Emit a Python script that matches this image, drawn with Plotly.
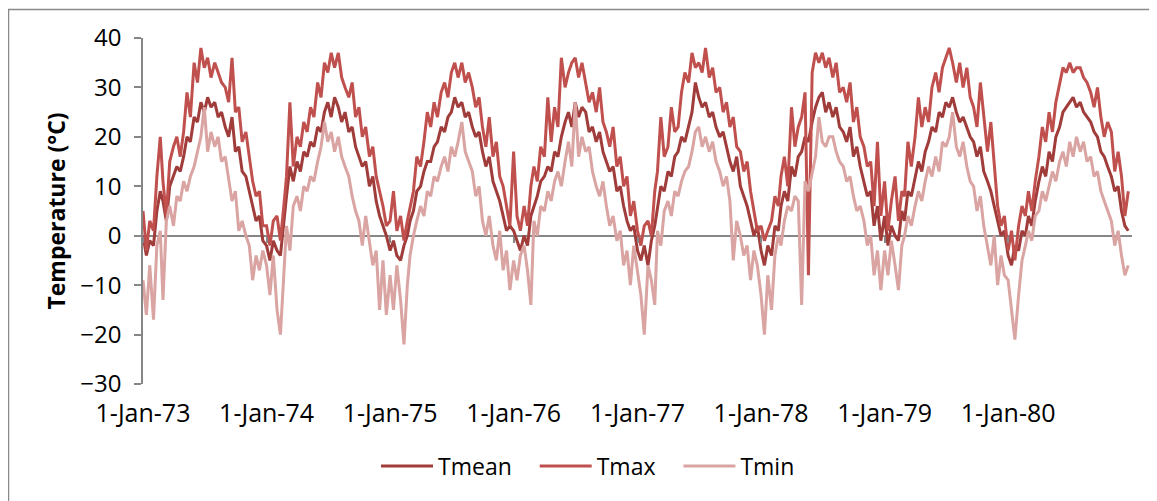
import pandas as pd
import plotly.graph_objects as go

# ---------------- data: values, one value per dekad (1st, 11th, 21st of each month)
years = list(range(1973, 1981))
dekad_days = [1, 11, 21]

tmax73 = [5, -3, 3, 1, 12, 20, 11, 4, 15, 18, 20, 16, 21, 29, 24, 35, 31, 38, 34, 36, 32, 35, 33, 31, 30, 27, 36, 25, 26, 19, 21, 16, 11, 8, 9, 2]
tmax74 = [2, -2, 3, 4, -1, 6, 12, 27, 14, 20, 18, 23, 21, 26, 24, 31, 28, 35, 33, 37, 34, 37, 32, 30, 28, 31, 24, 26, 20, 22, 16, 18, 12, 9, 6, 2]
tmax75 = [3, 9, 1, 4, -1, 3, 6, 9, 16, 14, 19, 25, 22, 27, 24, 29, 31, 28, 33, 35, 32, 35, 31, 33, 30, 26, 28, 22, 18, 24, 16, 19, 12, 10, 6, 2]
tmax76 = [17, 4, 1, 6, 2, 10, 14, 11, 18, 16, 28, 19, 26, 22, 36, 30, 33, 35, 36, 32, 35, 31, 27, 29, 25, 30, 23, 21, 18, 22, 14, 16, 10, 12, 4, 7]
tmax77 = [1, -2, 2, 3, 0, 9, 13, 24, 16, 18, 26, 21, 22, 29, 33, 31, 37, 34, 35, 33, 38, 32, 34, 29, 30, 25, 27, 22, 24, 18, 17, 13, 15, 9, 5, 1]
tmax78 = [2, -1, 1, 3, 8, 6, 12, 16, 10, 26, 18, 22, 24, 29, -8, 33, 37, 35, 37, 34, 36, 32, 35, 29, 30, 27, 31, 23, 26, 20, 18, 14, 15, 6, 19, 4]
tmax79 = [11, 1, 7, 12, 3, 9, 8, 19, 14, 20, 28, 22, 26, 23, 30, 33, 29, 34, 36, 38, 35, 31, 35, 30, 34, 28, 26, 22, 31, 24, 17, 23, 14, 6, 2, 4]
tmax80 = [-3, 1, -5, 2, 6, 4, 9, 5, 11, 16, 22, 19, 25, 21, 27, 31, 34, 33, 35, 33, 34, 34, 32, 31, 29, 26, 30, 24, 20, 23, 21, 13, 17, 12, 4, 9]

tmean73 = [0, -4, -1, -2, 5, 9, 7, 3, 10, 12, 14, 13, 16, 20, 19, 24, 23, 27, 25, 28, 26, 27, 24, 25, 22, 20, 24, 17, 18, 13, 12, 9, 6, 3, 4, -1]
tmean74 = [-2, -5, -1, -3, -4, 3, 8, 14, 11, 15, 13, 17, 16, 19, 18, 22, 21, 25, 27, 24, 28, 26, 23, 25, 21, 22, 18, 16, 14, 15, 10, 12, 7, 4, 2, 0]
tmean75 = [-3, -1, -4, -5, -2, 0, 3, 5, 9, 10, 13, 15, 15, 18, 19, 22, 21, 24, 25, 28, 26, 27, 24, 25, 22, 20, 21, 17, 14, 16, 11, 9, 7, 4, 1, 2]
tmean76 = [1, -1, -3, 0, -2, 4, 6, 8, 11, 12, 14, 13, 17, 16, 20, 23, 25, 22, 27, 24, 26, 25, 21, 22, 19, 21, 17, 15, 13, 14, 9, 10, 6, 3, 1, 2]
tmean77 = [-3, -5, -2, -6, -1, 2, 6, 10, 9, 13, 12, 16, 17, 20, 19, 22, 25, 31, 28, 26, 27, 24, 25, 22, 20, 21, 18, 15, 13, 16, 10, 8, 6, 3, 0, 2]
tmean78 = [-3, -6, -2, -4, 2, 1, 6, 9, 7, 14, 12, 16, 17, 20, 19, 23, 26, 28, 29, 25, 27, 24, 26, 22, 21, 19, 22, 16, 18, 14, 11, 8, 9, 2, 6, -1]
tmean79 = [4, -2, 2, 0, -1, 5, 3, 9, 8, 12, 15, 13, 17, 19, 22, 21, 25, 24, 27, 26, 28, 25, 23, 24, 22, 20, 19, 16, 18, 13, 11, 9, 6, 3, 0, 1]
tmean80 = [-4, -6, -2, -3, 1, 0, 4, 2, 7, 11, 14, 12, 17, 15, 20, 22, 25, 26, 27, 28, 26, 27, 25, 24, 23, 21, 20, 17, 16, 14, 12, 9, 10, 5, 2, 1]

tmin73 = [-9, -16, -6, -17, -2, 1, -13, 3, 6, 2, 8, 7, 11, 9, 12, 14, 17, 20, 26, 17, 21, 18, 20, 15, 16, 11, 7, 9, 1, 3, 0, -2, -9, -4, -7, -3]
tmin74 = [-6, -12, -4, -15, -20, -8, 2, -3, 6, 8, 5, 10, 9, 12, 11, 15, 18, 23, 19, 21, 17, 20, 16, 14, 12, 8, 5, 3, -2, 4, -1, -6, -3, -15, -5, -16]
tmin75 = [-8, -15, -6, -13, -22, -10, -4, 0, 3, 6, 4, 9, 8, 12, 11, 14, 16, 13, 18, 16, 19, 23, 17, 15, 13, 8, 10, 3, 0, 4, -2, -5, 1, -7, -3, -11]
tmin76 = [-5, -9, -4, -2, -7, -14, 3, 0, 6, 5, 9, 7, 11, 13, 10, 15, 19, 14, 27, 16, 20, 17, 18, 13, 10, 8, 11, 6, 2, 4, -1, 1, -6, -3, -10, -2]
tmin77 = [-7, -12, -20, -6, -9, -14, 1, -2, 5, 7, 4, 9, 8, 11, 13, 14, 17, 21, 22, 18, 20, 17, 19, 15, 13, 10, 12, 7, -5, 3, 0, -4, -2, -9, -3, -6]
tmin78 = [-12, -20, -8, -15, -4, 0, -2, 3, 6, 5, 8, 7, -14, 11, 9, 13, 16, 24, 19, 18, 20, 20, 17, 15, 14, 11, 12, 8, 5, 6, 3, -2, 0, -8, -3, -11]
tmin79 = [-3, -8, -1, -6, -11, -2, 0, 4, 2, 6, 9, 7, 11, 14, 12, 16, 13, 19, 18, 20, 25, 18, 16, 19, 14, 11, 10, 5, 8, 2, -2, -6, 0, -10, -4, -8]
tmin80 = [-9, -15, -21, -12, -5, -2, 1, -1, 4, 5, 9, 7, 10, 13, 11, 15, 17, 14, 19, 16, 20, 17, 19, 15, 16, 12, 13, 9, 7, 5, 3, -2, 1, -4, -8, -6]

tick_labels = ['1-Jan-73', '1-Jan-74', '1-Jan-75', '1-Jan-76', '1-Jan-77', '1-Jan-78', '1-Jan-79', '1-Jan-80']

tmax = tmax73 + tmax74 + tmax75 + tmax76 + tmax77 + tmax78 + tmax79 + tmax80
tmean = tmean73 + tmean74 + tmean75 + tmean76 + tmean77 + tmean78 + tmean79 + tmean80
tmin = tmin73 + tmin74 + tmin75 + tmin76 + tmin77 + tmin78 + tmin79 + tmin80
dates = [pd.Timestamp(y, m, d) for y in years for m in range(1, 13) for d in dekad_days]
tick_dates = [pd.Timestamp(y, 1, 1) for y in years]

# ---------------- geometry, given in page pixels (the html body adds an 8px margin)
PAGE_OFF = 8
W, H = 1157 - PAGE_OFF, 501 - PAGE_OFF
L, R, T, B = 143 - PAGE_OFF, 1132 - PAGE_OFF, 38 - PAGE_OFF, 384 - PAGE_OFF
px = lambda x: (x - PAGE_OFF - L) / (R - L)
py = lambda y: (B - (y - PAGE_OFF)) / (B - T)

AXIS_GREY = '#868686'
FONT = 'Open Sans'
PAD = '\u00a0' * 3  # a bit of room after each legend label, like Excel's spacing

fig = go.Figure()
fig.add_trace(go.Scatter(x=dates, y=tmean, name='Tmean' + PAD, mode='lines', line=dict(color='#A03C3A', width=3)))
fig.add_trace(go.Scatter(x=dates, y=tmax, name='Tmax' + PAD, mode='lines', line=dict(color='#C0504D', width=3)))
fig.add_trace(go.Scatter(x=dates, y=tmin, name='Tmin' + PAD, mode='lines', line=dict(color='#D9A4A2', width=3)))
# empty trace so the tick-only axis on the zero line gets drawn
fig.add_trace(go.Scatter(x=[], y=[], xaxis='x2', showlegend=False, hoverinfo='skip'))

fig.update_layout(
    width=W, height=H,
    margin=dict(l=L, r=W - R, t=T, b=H - B, autoexpand=False),
    paper_bgcolor='white', plot_bgcolor='white',
    font=dict(family=FONT, size=24, color='black'),
    legend=dict(orientation='h', x=px(597), xanchor='center', y=py(466), yanchor='middle',
                font=dict(family=FONT, size=23), bgcolor='rgba(0,0,0,0)', itemwidth=52),
    xaxis=dict(type='date', range=['1973-01-01', '1981-01-01'], tickvals=tick_dates, ticktext=tick_labels,
               showline=False, showgrid=False, zeroline=False, ticks='', ticklabelstandoff=12,
               automargin=False, tickfont=dict(size=25)),
    xaxis2=dict(type='date', overlaying='x', anchor='free', position=30 / 70,
                range=['1973-01-01', '1981-01-01'], tickvals=tick_dates,
                ticks='outside', ticklen=6, tickwidth=1.5, tickcolor=AXIS_GREY,
                showticklabels=False, showgrid=False, showline=False, zeroline=False),
    yaxis=dict(range=[-30, 40], tickvals=[-30, -20, -10, 0, 10, 20, 30, 40],
               showline=True, linecolor=AXIS_GREY, linewidth=1.5,
               ticks='outside', ticklen=7, tickwidth=1.5, tickcolor=AXIS_GREY, ticklabelstandoff=8,
               showgrid=False, zeroline=True, zerolinecolor=AXIS_GREY, zerolinewidth=1.5,
               automargin=False, tickfont=dict(size=24),
               title=dict(text='<b>Temperature (°C)</b>', font=dict(family=FONT, size=23), standoff=8)),
)

# outer chart frame
fig.add_shape(type='rect', xref='paper', yref='paper',
              x0=px(8.5), x1=px(1156), y0=py(510), y1=py(9.5),
              line=dict(color='#898989', width=1.5), fillcolor='rgba(0,0,0,0)', layer='below')

fig.write_html('out.html')
